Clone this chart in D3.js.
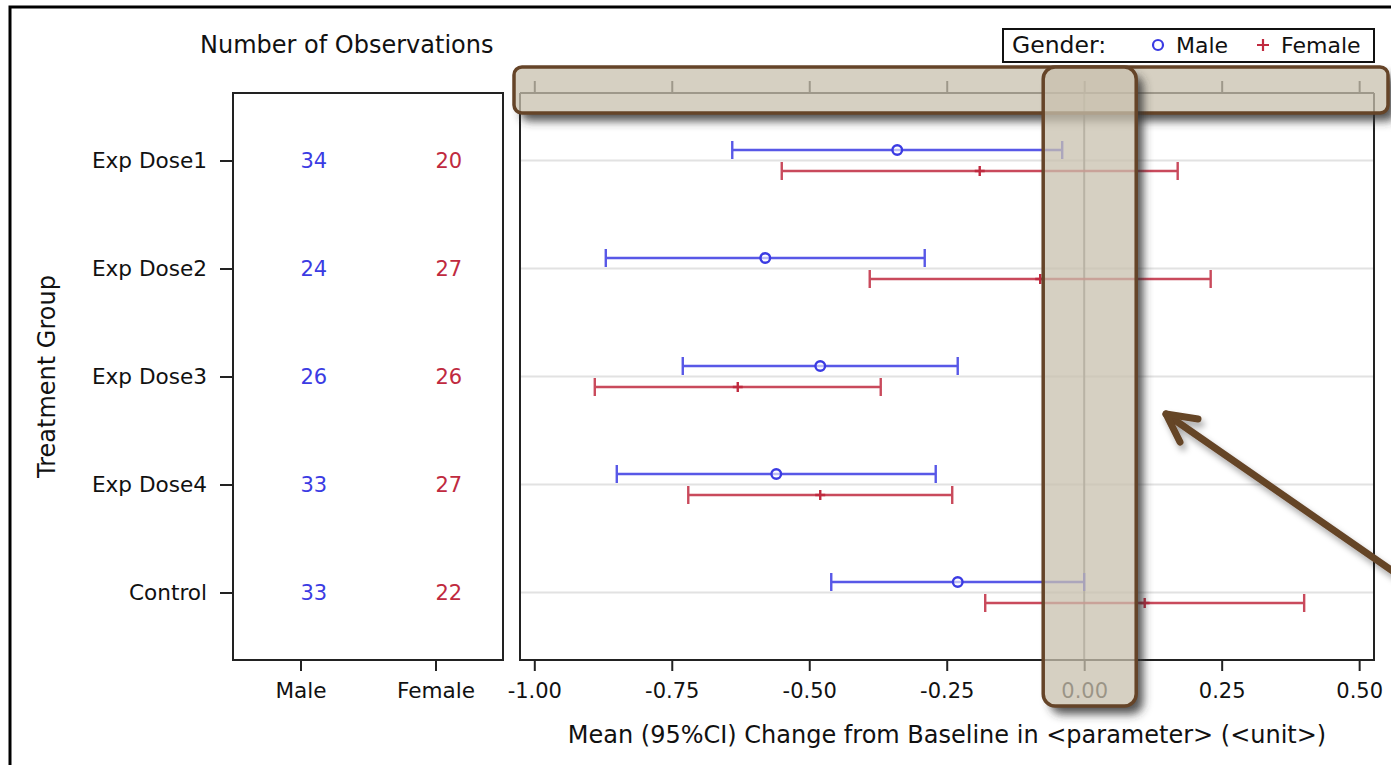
<!DOCTYPE html>
<html>
<head>
<meta charset="utf-8">
<script src="https://cdn.jsdelivr.net/npm/d3@7"></script>
<style>
  html, body { margin: 0; padding: 0; background: #fff; }
  svg text { font-family: "DejaVu Sans", sans-serif; }
</style>
</head>
<body>
<script>
// data
const groups = ["Exp Dose1", "Exp Dose2", "Exp Dose3", "Exp Dose4", "Control"];
const genders = ["Male", "Female"];
const maleN = [34, 24, 26, 33, 33];
const femaleN = [20, 27, 26, 27, 22];
const maleMean = [-0.34, -0.58, -0.48, -0.56, -0.23];
const maleLow = [-0.64, -0.87, -0.73, -0.85, -0.46];
const maleHigh = [-0.04, -0.29, -0.23, -0.27, 0.00];
const femaleMean = [-0.19, -0.08, -0.63, -0.48, 0.11];
const femaleLow = [-0.55, -0.39, -0.89, -0.72, -0.18];
const femaleHigh = [0.17, 0.23, -0.37, -0.24, 0.40];
const xTicks = [-1, -0.75, -0.5, -0.25, 0, 0.25, 0.5];

const width = 1391;
const height = 765;
const blue = "#3b3be3";
const red = "#c02a3f";
const brown = "#654428";
const numSize = 21;
const labelSize = 21.6;
const titleSize = 24;

const svg = d3.select("body")
  .append("svg")
  .attr("width", width)
  .attr("height", height);

const defs = svg.append("defs");
defs.append("filter")
  .attr("id", "blur")
  .attr("filterUnits", "userSpaceOnUse")
  .attr("x", 0).attr("y", 0)
  .attr("width", width).attr("height", height)
  .append("feGaussianBlur")
  .attr("stdDeviation", 5);

defs.append("filter")
  .attr("id", "shadow")
  .attr("x", "-20%").attr("y", "-20%")
  .attr("width", "150%").attr("height", "150%")
  .append("feDropShadow")
  .attr("dx", 3).attr("dy", 5)
  .attr("stdDeviation", 3)
  .attr("flood-color", "#000")
  .attr("flood-opacity", 0.35);

svg.append("rect")
  .attr("width", width).attr("height", height).attr("fill", "white");

// outer frame
svg.append("rect")
  .attr("x", 10).attr("y", 7)
  .attr("width", 1400).attr("height", 800)
  .attr("fill", "none").attr("stroke", "#000").attr("stroke-width", 3);

// scales
const plotLeft = 520, plotRight = 1374, plotTop = 93, plotBottom = 660;
const tableLeft = 233, tableRight = 503;

const x = d3.scaleLinear().domain([-1.026, 0.527]).range([plotLeft, plotRight]);
const y = d3.scalePoint().domain(groups).range([plotTop, plotBottom]).padding(0.625);
const xt = d3.scalePoint().domain(genders).range([tableLeft, tableRight]).padding(0.5);

const fmt = d => d.toFixed(2);

// ---- table panel ----
const table = svg.append("g");
table.append("path")
  .attr("d", `M${tableLeft},${plotBottom}V${plotTop}H${tableRight}V${plotBottom}Z`)
  .attr("fill", "none").attr("stroke", "#222").attr("stroke-width", 2);

const tAxis = table.append("g")
  .attr("transform", `translate(0,${plotBottom})`)
  .call(d3.axisBottom(xt).tickSize(11).tickPadding(12).tickSizeOuter(0));
tAxis.select(".domain").remove();

const yAxis = table.append("g")
  .attr("transform", `translate(${tableLeft},0)`)
  .call(d3.axisLeft(y).tickSize(13).tickPadding(13).tickSizeOuter(0));
yAxis.select(".domain").remove();

[tAxis, yAxis].forEach(a => {
  a.selectAll("line").attr("stroke", "#222").attr("stroke-width", 2);
  a.selectAll("text").attr("font-size", labelSize).attr("fill", "#111")
    .attr("font-family", "DejaVu Sans");
});

table.selectAll("text.maleN")
  .data(maleN)
  .join("text")
  .attr("class", "maleN")
  .attr("x", xt("Male"))
  .attr("y", (d, i) => y(groups[i]))
  .attr("dy", "0.35em")
  .attr("font-size", numSize)
  .attr("fill", blue)
  .text(d => d);

table.selectAll("text.femaleN")
  .data(femaleN)
  .join("text")
  .attr("class", "femaleN")
  .attr("x", xt("Female"))
  .attr("y", (d, i) => y(groups[i]))
  .attr("dy", "0.35em")
  .attr("font-size", numSize)
  .attr("fill", red)
  .text(d => d);

svg.append("text")
  .attr("x", 200).attr("y", 53)
  .attr("font-size", titleSize)
  .attr("fill", "#111")
  .text("Number of Observations");

svg.append("text")
  .attr("transform", `translate(55,${(plotTop + plotBottom) / 2}) rotate(-90)`)
  .attr("text-anchor", "middle")
  .attr("font-size", titleSize)
  .attr("fill", "#111")
  .text("Treatment Group");

// ---- plot panel ----
const plot = svg.append("g");

plot.selectAll("line.grid")
  .data(groups)
  .join("line")
  .attr("class", "grid")
  .attr("x1", plotLeft).attr("x2", plotRight)
  .attr("y1", d => y(d)).attr("y2", d => y(d))
  .attr("stroke", "#e2e2e2").attr("stroke-width", 2);

// reference line at 0
plot.append("line")
  .attr("x1", x(0)).attr("x2", x(0))
  .attr("y1", plotTop).attr("y2", plotBottom)
  .attr("stroke", "#8a8a8a").attr("stroke-width", 2);

plot.append("path")
  .attr("d", `M${plotLeft},${plotTop}V${plotBottom}H${plotRight}V${plotTop}`)
  .attr("fill", "none").attr("stroke", "#222").attr("stroke-width", 2);

const bAxis = plot.append("g")
  .attr("transform", `translate(0,${plotBottom})`)
  .call(d3.axisBottom(x).tickValues(xTicks).tickFormat(fmt).tickSize(11).tickPadding(12).tickSizeOuter(0));
bAxis.select(".domain").remove();
bAxis.selectAll("line").attr("stroke", "#222").attr("stroke-width", 2);
bAxis.selectAll("text").attr("font-size", numSize).attr("fill", "#111")
  .attr("font-family", "DejaVu Sans");

const topAxis = plot.append("g")
  .attr("transform", `translate(0,${plotTop})`)
  .call(d3.axisTop(x).tickValues(xTicks).tickFormat("").tickSize(12).tickSizeOuter(0));
topAxis.select(".domain").remove();
topAxis.selectAll("line").attr("stroke", "#222").attr("stroke-width", 2);
plot.append("line")
  .attr("x1", plotLeft).attr("x2", plotRight)
  .attr("y1", plotTop).attr("y2", plotTop)
  .attr("stroke", "#222").attr("stroke-width", 2);

svg.append("text")
  .attr("x", (plotLeft + plotRight) / 2).attr("y", 743)
  .attr("text-anchor", "middle")
  .attr("font-size", titleSize)
  .attr("fill", "#111")
  .text("Mean (95%CI) Change from Baseline in <parameter> (<unit>)");

// error bars
const series = [
  { name: "Male", color: blue, off: -10.5, mean: maleMean, low: maleLow, high: maleHigh },
  { name: "Female", color: red, off: 10.5, mean: femaleMean, low: femaleLow, high: femaleHigh }
];
const cap = 9;

series.forEach(s => {
  const g = plot.append("g")
    .attr("stroke", s.color)
    .attr("stroke-width", 2.4)
    .attr("stroke-opacity", 0.85)
    .attr("fill", "none");
  const rows = groups.map((grp, i) => ({ y: y(grp) + s.off, lo: s.low[i], hi: s.high[i], m: s.mean[i] }));
  g.selectAll("path.bar")
    .data(rows)
    .join("path")
    .attr("class", "bar")
    .attr("d", d => `M${x(d.lo)},${d.y}H${x(d.hi)}` +
      `M${x(d.lo)},${d.y - cap}V${d.y + cap}` +
      `M${x(d.hi)},${d.y - cap}V${d.y + cap}`);
  if (s.name === "Male") {
    g.selectAll("circle")
      .data(rows)
      .join("circle")
      .attr("cx", d => x(d.m)).attr("cy", d => d.y)
      .attr("r", 4.8)
      .attr("stroke-opacity", 1)
      .attr("fill", "white").attr("fill-opacity", 0.6);
  } else {
    g.selectAll("path.plus")
      .data(rows)
      .join("path")
      .attr("class", "plus")
      .attr("stroke-opacity", 1)
      .attr("d", d => `M${x(d.m) - 5},${d.y}H${x(d.m) + 5}M${x(d.m)},${d.y - 5}V${d.y + 5}`);
  }
});

// legend
const legend = svg.append("g");
legend.append("rect")
  .attr("x", 1003).attr("y", 29)
  .attr("width", 371).attr("height", 33)
  .attr("fill", "white").attr("stroke", "#111").attr("stroke-width", 2);
legend.append("text")
  .attr("x", 1012).attr("y", 53)
  .attr("font-size", 23.5).attr("fill", "#111")
  .text("Gender:");
legend.append("circle")
  .attr("cx", 1158).attr("cy", 45).attr("r", 5)
  .attr("fill", "none").attr("stroke", blue).attr("stroke-width", 2.2);
legend.append("text")
  .attr("x", 1176).attr("y", 53)
  .attr("font-size", 22).attr("fill", "#111")
  .text("Male");
legend.append("path")
  .attr("d", "M1257,45H1269M1263,39V51")
  .attr("stroke", red).attr("stroke-width", 2.2);
legend.append("text")
  .attr("x", 1281).attr("y", 53)
  .attr("font-size", 22).attr("fill", "#111")
  .text("Female");

// ---- annotation highlights ----
const boxes = [
  { id: "topBox", x: 514, y: 67, w: 874, h: 46, r: 8 },
  { id: "zeroBox", x: x(0) - 41, y: 67, w: 93, h: 639, r: 12 }
];

boxes.forEach(b => {
  const m = defs.append("mask").attr("id", b.id + "Mask")
    .attr("maskUnits", "userSpaceOnUse")
    .attr("x", 0).attr("y", 0).attr("width", width).attr("height", height);
  m.append("rect").attr("width", width).attr("height", height).attr("fill", "white");
  m.append("rect")
    .attr("x", b.x).attr("y", b.y).attr("width", b.w).attr("height", b.h)
    .attr("rx", b.r).attr("fill", "black");
});

const notes = svg.append("g");
boxes.forEach(b => {
  notes.append("g")
    .attr("mask", `url(#${b.id}Mask)`)
    .append("rect")
    .attr("x", b.x + 7).attr("y", b.y + 8).attr("width", b.w).attr("height", b.h)
    .attr("rx", b.r)
    .attr("fill", "#333").attr("fill-opacity", 0.85)
    .attr("filter", "url(#blur)");
  notes.append("rect")
    .attr("x", b.x).attr("y", b.y).attr("width", b.w).attr("height", b.h)
    .attr("rx", b.r)
    .attr("fill", "#c8c0ae").attr("fill-opacity", 0.75)
    .attr("stroke", brown).attr("stroke-width", 3.5);
});

// arrow
const arrow = notes.append("g")
  .attr("stroke", brown).attr("stroke-width", 7)
  .attr("stroke-linecap", "round").attr("stroke-linejoin", "round")
  .attr("fill", "none")
  .attr("filter", "url(#shadow)");
arrow.append("path").attr("d", "M1420,590L1166,414");
arrow.append("path").attr("d", "M1198,419L1166,414L1180,442");
</script>
</body>
</html>
